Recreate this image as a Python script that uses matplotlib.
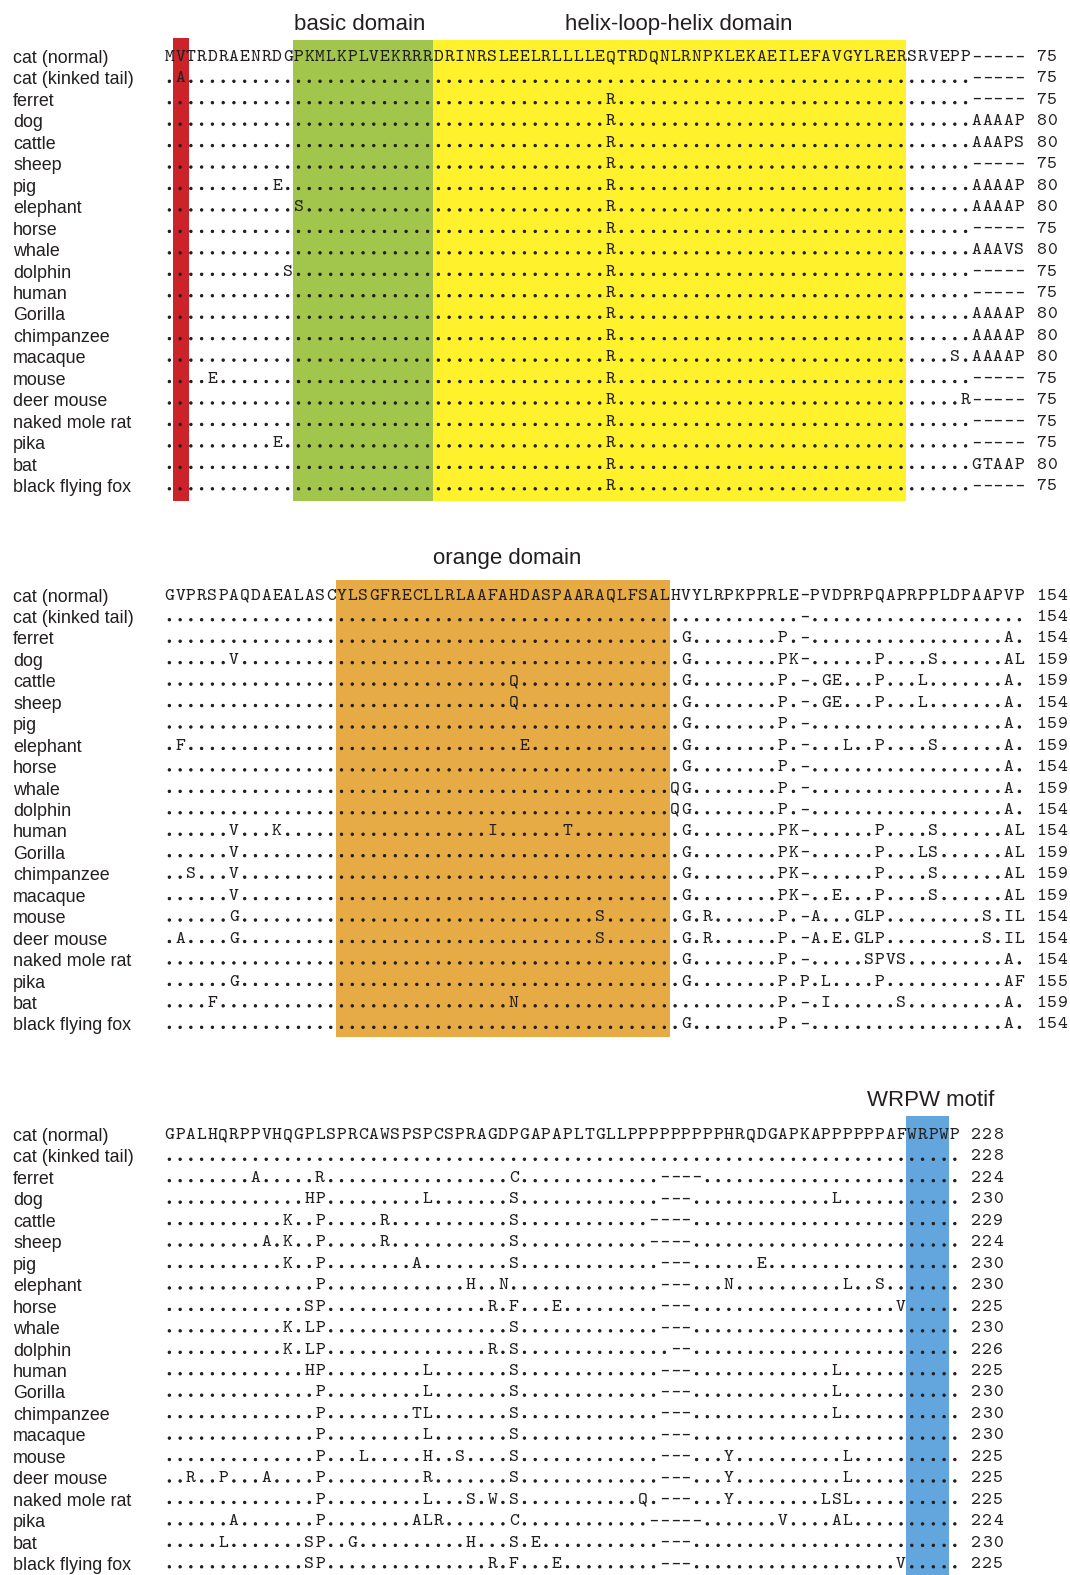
import matplotlib
matplotlib.use("Agg")
import matplotlib.pyplot as plt
import matplotlib.patheffects as pe
from matplotlib.patches import Rectangle

# ---------------------------------------------------------------- data
species = [
    "cat (normal)", "cat (kinked tail)", "ferret", "dog", "cattle", "sheep",
    "pig", "elephant", "horse", "whale", "dolphin", "human", "Gorilla",
    "chimpanzee", "macaque", "mouse", "deer mouse", "naked mole rat", "pika",
    "bat", "black flying fox",
]

# reference (cat, normal) sequence of each alignment block
ref1 = "MVTRDRAENRDGPKMLKPLVEKRRRDRINRSLEELRLLLLEQTRDQNLRNPKLEKAEILEFAVGYLRERSRVEPP-----"
ref2 = "GVPRSPAQDAEALASCYLSGFRECLLRLAAFAHDASPAARAQLFSALHVYLRPKPPRLE-PVDPRPQAPRPPLDPAAPVP"
ref3 = "GPALHQRPPVHQGPLSPRCAWSPSPCSPRAGDPGAPAPLTGLLPPPPPPPPPHRQDGAPKAPPPPPPAFWRPWP"

# differences from the reference: {alignment column: residues}
diff1 = [
    None, {1: "A"}, {41: "R"}, {41: "R", 75: "AAAAP"}, {41: "R", 75: "AAAPS"},
    {41: "R"}, {10: "E", 41: "R", 75: "AAAAP"}, {12: "S", 41: "R", 75: "AAAAP"},
    {41: "R"}, {41: "R", 75: "AAAVS"}, {11: "S", 41: "R"}, {41: "R"},
    {41: "R", 75: "AAAAP"}, {41: "R", 75: "AAAAP"}, {41: "R", 73: "S", 75: "AAAAP"},
    {4: "E", 41: "R"}, {41: "R", 74: "R"}, {41: "R"}, {10: "E", 41: "R"},
    {41: "R", 75: "GTAAP"}, {41: "R"},
]
diff2 = [
    None, {},
    {48: "G", 57: "P", 78: "A"},
    {6: "V", 48: "G", 57: "PK", 66: "P", 71: "S", 78: "AL"},
    {32: "Q", 48: "G", 57: "P", 61: "GE", 66: "P", 70: "L", 78: "A"},
    {32: "Q", 48: "G", 57: "P", 61: "GE", 66: "P", 70: "L", 78: "A"},
    {48: "G", 57: "P", 78: "A"},
    {1: "F", 33: "E", 48: "G", 57: "P", 63: "L", 66: "P", 71: "S", 78: "A"},
    {48: "G", 57: "P", 78: "A"},
    {47: "QG", 57: "P", 78: "A"},
    {47: "QG", 57: "P", 78: "A"},
    {6: "V", 10: "K", 30: "I", 37: "T", 48: "G", 57: "PK", 66: "P", 71: "S", 78: "AL"},
    {6: "V", 48: "G", 57: "PK", 66: "P", 70: "LS", 78: "AL"},
    {2: "S", 6: "V", 48: "G", 57: "PK", 66: "P", 71: "S", 78: "AL"},
    {6: "V", 48: "G", 57: "PK", 62: "E", 66: "P", 71: "S", 78: "AL"},
    {6: "G", 40: "S", 48: "G", 50: "R", 57: "P", 60: "A", 64: "GLP", 76: "S", 78: "IL"},
    {1: "A", 6: "G", 40: "S", 48: "G", 50: "R", 57: "P", 60: "A", 62: "E", 64: "GLP",
     76: "S", 78: "IL"},
    {48: "G", 57: "P", 65: "SPVS", 78: "A"},
    {6: "G", 48: "G", 57: "P", 59: "P", 61: "L", 66: "P", 78: "AF"},
    {4: "F", 32: "N", 57: "P", 61: "I", 68: "S", 78: "A"},
    {48: "G", 57: "P", 78: "A"},
]
diff3 = [
    None, {},
    {8: "A", 14: "R", 32: "C", 46: "----"},
    {13: "HP", 24: "L", 32: "S", 46: "---", 62: "L"},
    {11: "K", 14: "P", 20: "R", 32: "S", 45: "----"},
    {9: "A", 11: "K", 14: "P", 20: "R", 32: "S", 45: "----"},
    {11: "K", 14: "P", 23: "A", 32: "S", 46: "---", 55: "E"},
    {14: "P", 28: "H", 31: "N", 46: "---", 52: "N", 63: "L", 66: "S"},
    {13: "SP", 30: "R", 32: "F", 36: "E", 46: "---", 68: "V"},
    {11: "K", 13: "LP", 32: "S", 46: "---"},
    {11: "K", 13: "LP", 30: "R", 32: "S", 47: "--"},
    {13: "HP", 24: "L", 32: "S", 46: "---", 62: "L"},
    {14: "P", 24: "L", 32: "S", 46: "---", 62: "L"},
    {14: "P", 23: "TL", 32: "S", 46: "---", 62: "L"},
    {14: "P", 24: "L", 32: "S", 46: "---"},
    {14: "P", 18: "L", 24: "H", 27: "S", 32: "S", 46: "---", 52: "Y", 63: "L"},
    {2: "R", 5: "P", 9: "A", 14: "P", 24: "R", 32: "S", 46: "---", 52: "Y", 63: "L"},
    {14: "P", 24: "L", 28: "S", 30: "W", 32: "S", 44: "Q", 46: "---", 52: "Y", 61: "LSL"},
    {6: "A", 14: "P", 23: "ALR", 32: "C", 45: "-----", 57: "V", 62: "AL"},
    {5: "L", 13: "SP", 17: "G", 28: "H", 32: "S", 34: "E", 46: "---"},
    {13: "SP", 30: "R", 32: "F", 36: "E", 46: "---", 68: "V"},
]

# residue count at the end of each block
end1 = [75, 75, 75, 80, 80, 75, 80, 80, 75, 80, 75, 75, 80, 80, 80, 75, 75, 75, 75, 80, 75]
end2 = [154, 154, 154, 159, 159, 154, 159, 159, 154, 159, 154, 154, 159, 159, 159, 154,
        154, 154, 155, 159, 154]
end3 = [228, 228, 224, 230, 229, 224, 230, 230, 225, 230, 226, 225, 230, 230, 230, 225,
        225, 225, 224, 230, 225]

# highlighted regions: (first column, column after last, label)
domains1 = [(1, 2, None), (12, 25, "basic domain"), (25, 69, "helix-loop-helix domain")]
domains2 = [(16, 47, "orange domain")]
domains3 = [(69, 73, "WRPW motif")]

# ---------------------------------------------------------------- style
INK = "#231f20"
MONO = "cmtt10"
SANS = "Liberation Sans"
X0, CW, RH = 164.0, 10.76, 21.45
SEQ_SIZE = 13.5
colors1 = ["#cc2229", "#a2c64c", "#fff12b"]
colors2 = ["#e7ab46"]
colors3 = ["#63a6de"]
dot_weight = [pe.withStroke(linewidth=0.7, foreground=INK)]


def aligned_row(ref, diff):
    """Dots for identity, dashes kept for reference gaps, letters for changes."""
    if diff is None:
        return ref
    cells = ["-" if c == "-" else "." for c in ref]
    for start, res in diff.items():
        for k, ch in enumerate(res):
            cells[start + k] = ch
    return "".join(cells)


fig = plt.figure(figsize=(10.7, 15.75), dpi=100)
ax = fig.add_axes([0, 0, 1, 1])
ax.set_xlim(0, 1070)
ax.set_ylim(1575, 0)
ax.axis("off")


def draw_cell(x, yc, ch):
    """One monospaced character cell of the alignment."""
    if ch == "-":
        ax.text(x, yc + 4.8, "\u2013", family="DejaVu Sans", fontsize=12.5,
                color=INK, ha="center", va="baseline")
    elif ch == ".":
        ax.text(x, yc + 5.5, ch, family=MONO, fontsize=SEQ_SIZE, color=INK,
                ha="center", va="baseline", path_effects=dot_weight)
    else:
        ax.text(x, yc + 5.5, ch, family=MONO, fontsize=SEQ_SIZE, color=INK,
                ha="center", va="baseline")


def draw_block(ref, diffs, ends, domains, colors, y0, box_top, box_bot, title_pos):
    last = y0 + RH * (len(species) - 1)
    for (c0, c1, label), col, tpos in zip(domains, colors, title_pos):
        if label is None:
            xa, xb = X0 + CW * c0 - 2, X0 + CW * c1 + 3.5
            top = y0 - box_top - 2
        else:
            xa, xb = X0 + CW * c0, X0 + CW * c1
            top = y0 - box_top
        ax.add_patch(Rectangle((xa, top), xb - xa, last + box_bot - top,
                               facecolor=col, edgecolor="none", zorder=0))
        if label is not None:
            ax.text(tpos[0], tpos[1], label, family=SANS, fontsize=16, color=INK,
                    ha="center", va="baseline")
    for i, name in enumerate(species):
        yc = y0 + RH * i
        ax.text(13, yc + 7.5, name, family=SANS, fontsize=12.9, color=INK,
                ha="left", va="baseline")
        row = aligned_row(ref, diffs[i])
        for j, ch in enumerate(row):
            draw_cell(X0 + CW * (j + 0.5), yc, ch)
        # residue count, one space after the last column
        for k, digit in enumerate(str(ends[i])):
            draw_cell(X0 + CW * (len(ref) + 1.5 + k), yc, digit)


draw_block(ref1, diff1, end1, domains1, colors1, 55.5, 15.5, 16.5,
           [None, (360, 30), (679, 30)])
draw_block(ref2, diff2, end2, domains2, colors2, 594.0, 14, 14, [(507, 564)])
draw_block(ref3, diff3, end3, domains3, colors3, 1133.5, 17.5, 13, [(931, 1106)])

fig.savefig("out.png", dpi=100, facecolor="white")
